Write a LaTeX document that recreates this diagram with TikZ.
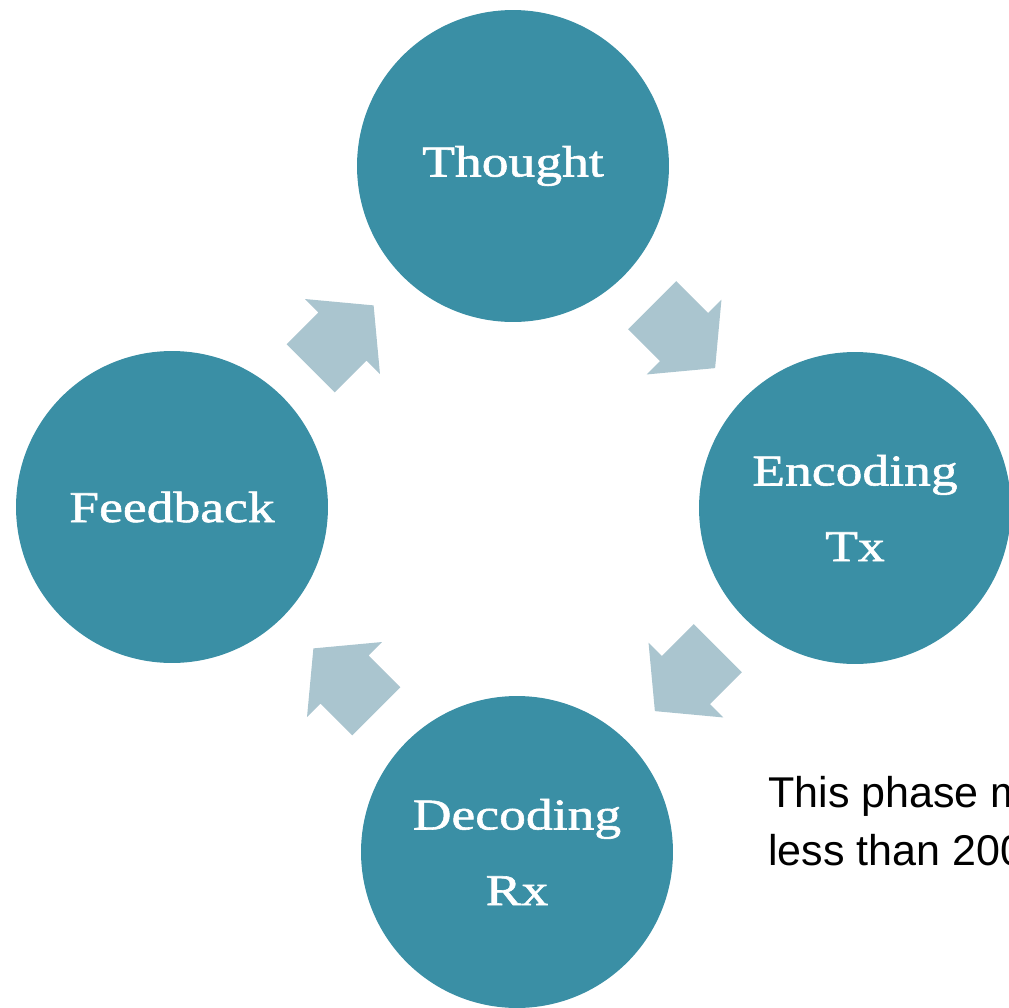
\documentclass[tikz,border=0pt]{standalone}
\usepackage{fontspec}
\setmainfont{Liberation Serif}
\newfontfamily\stagefont{Liberation Serif}[FakeStretch=1.22, FakeBold=1.3]
\newfontfamily\notefont{Liberation Sans}
\usetikzlibrary{calc}

\definecolor{stageteal}{RGB}{58,143,165}
\definecolor{arrowgray}{RGB}{170,197,207}

\tikzset{
    stage/.style={circle, fill=stageteal, minimum size=6.24cm, inner sep=0pt,
        text=white, align=center, font={\stagefont\fontsize{25}{43}\selectfont}},
    note/.style={anchor=north west, inner sep=0pt, align=left,
        font={\notefont\fontsize{24.5}{33}\selectfont}},
    pics/cyclearrow/.style={code={
        \fill[arrowgray] (-45,-34) -- (0,-34) -- (0,-53) -- (44,0)
            -- (0,53) -- (0,34) -- (-45,34) -- cycle;
    }}
}

\begin{document}
\begin{tikzpicture}[x=0.02cm, y=-0.02cm]
    \useasboundingbox (0,0) rectangle (1009,1008);

    \node[stage] (thought)  at (513,166) {Thought};
    \node[stage] (encoding) at (855,508) {Encoding\\Tx};
    \node[stage] (decoding) at (517,852) {Decoding\\Rx};
    \node[stage] (feedback) at (172,507) {Feedback};

    % block arrows sit halfway between neighbouring stages
    \pic[rotate=45]   at ($(feedback)!0.5!(thought)$)  {cyclearrow};
    \pic[rotate=-45]  at ($(thought)!0.5!(encoding)$)  {cyclearrow};
    \pic[rotate=-135] at ($(encoding)!0.5!(decoding)$) {cyclearrow};
    \pic[rotate=135]  at ($(decoding)!0.5!(feedback)$) {cyclearrow};

    \node[note] (phase) at (768,776) {This phase m\\less than 200};
\end{tikzpicture}
\end{document}
